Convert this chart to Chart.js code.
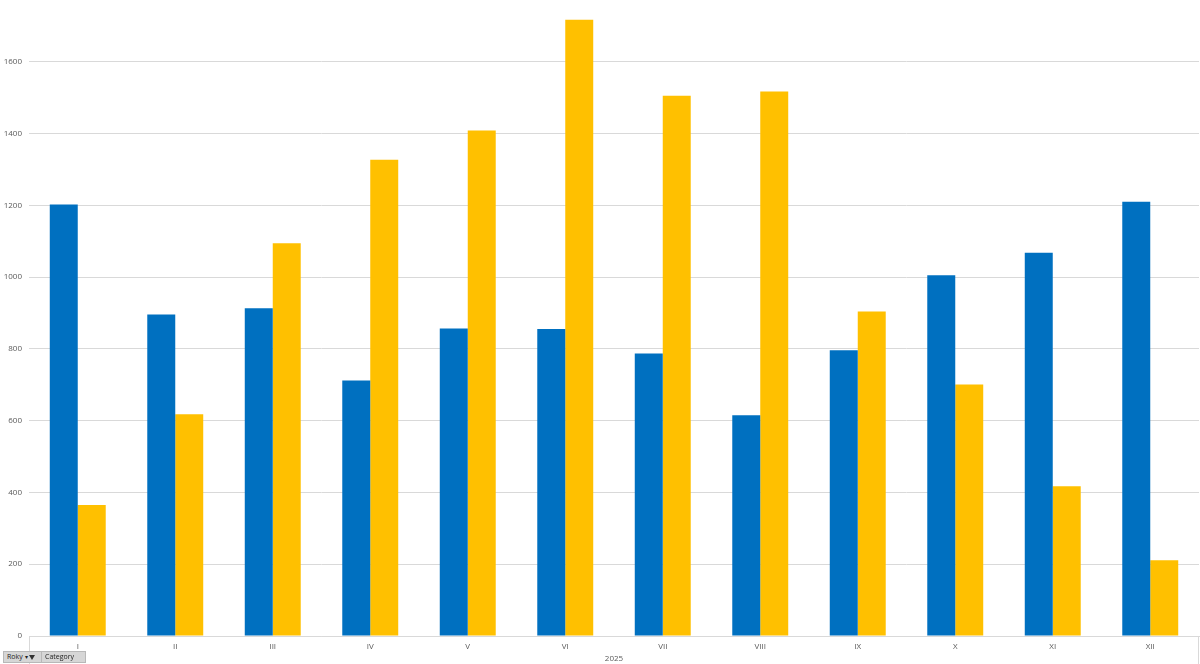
<!DOCTYPE html>
<html>
<head>
<meta charset="utf-8">
<script src="https://cdn.jsdelivr.net/npm/chart.js@4.4.1/dist/chart.umd.min.js"></script>
<style>
  html, body { margin: 0; padding: 0; background: #fff; }
  #wrap { position: relative; width: 1200px; height: 664px; }
  .fbtn {
    position: absolute; top: 651px; height: 10px;
    background: #d6d6d6; border: 1px solid #b8b8b8;
    font: 7px "Open Sans", sans-serif; color: #222;
    line-height: 10px; padding: 0 3px; box-sizing: content-box;
  }
  .funnel {
    display: inline-block; width: 0; height: 0; vertical-align: middle;
    border-left: 3px solid transparent; border-right: 3px solid transparent;
    border-top: 5px solid #333; margin-left: 1px;
  }
</style>
</head>
<body>
<div id="wrap">
  <canvas id="chart" width="1200" height="664"></canvas>
  <div class="fbtn" style="left:3px;width:31px;">Roky <span style="font-size:6px">▾</span><span class="funnel"></span></div>
  <div class="fbtn" style="left:41px;width:37px;">Category <span style="font-size:7px">▼</span></div>
</div>
<script>
const months = ['I', 'II', 'III', 'IV', 'V', 'VI', 'VII', 'VIII', 'IX', 'X', 'XI', 'XII'];
const blueValues = [1202, 896, 913, 712, 857, 855, 787, 615, 796, 1005, 1068, 1210];
const yellowValues = [365, 618, 1094, 1327, 1408, 1717, 1505, 1517, 904, 701, 417, 211];
const yTicks = [0, 200, 400, 600, 800, 1000, 1200, 1400, 1600];

const tickColor = '#595959';
const gridColor = '#d9d9d9';

// thin lines below the axis, like the pivot table frame
const frameLines = {
    id: 'frameLines',
    afterDraw(chart) {
        const { ctx, chartArea } = chart;
        ctx.save();
        ctx.strokeStyle = gridColor;
        ctx.lineWidth = 1;
        ctx.beginPath();
        ctx.moveTo(chartArea.left + 0.5, chartArea.bottom);
        ctx.lineTo(chartArea.left + 0.5, chart.height);
        ctx.moveTo(chartArea.right - 0.5, chartArea.bottom);
        ctx.lineTo(chartArea.right - 0.5, chart.height);
        ctx.stroke();
        ctx.restore();
    }
};

new Chart(document.getElementById('chart'), {
    type: 'bar',
    data: {
        labels: months,
        datasets: [
            { label: 'A', data: blueValues, backgroundColor: '#0070c0' },
            { label: 'B', data: yellowValues, backgroundColor: '#ffc000' }
        ]
    },
    options: {
        responsive: false,
        animation: false,
        layout: { padding: { top: 0, right: 1, left: 0, bottom: 0 } },
        datasets: { bar: { barPercentage: 1.0, categoryPercentage: 0.574 } },
        plugins: { legend: { display: false }, tooltip: { enabled: false } },
        scales: {
            x: {
                grid: { display: false },
                border: { color: gridColor },
                ticks: { color: tickColor, font: { size: 8, family: 'Open Sans' }, padding: -2, maxRotation: 0 },
                title: { display: true, text: '2025', color: tickColor, font: { size: 8, family: 'Open Sans' }, padding: 0 },
                afterFit(scale) { scale.height = 28; }
            },
            y: {
                min: 0,
                max: 1739,
                afterBuildTicks(scale) { scale.ticks = yTicks.map(v => ({ value: v })); },
                grid: { color: gridColor, drawTicks: false },
                border: { display: false },
                ticks: {
                    color: tickColor, font: { size: 8, family: 'Open Sans' }, padding: 7,
                    callback: v => String(v)
                },
                afterFit(scale) { scale.width = 29; }
            }
        }
    },
    plugins: [frameLines]
});
</script>
</body>
</html>
